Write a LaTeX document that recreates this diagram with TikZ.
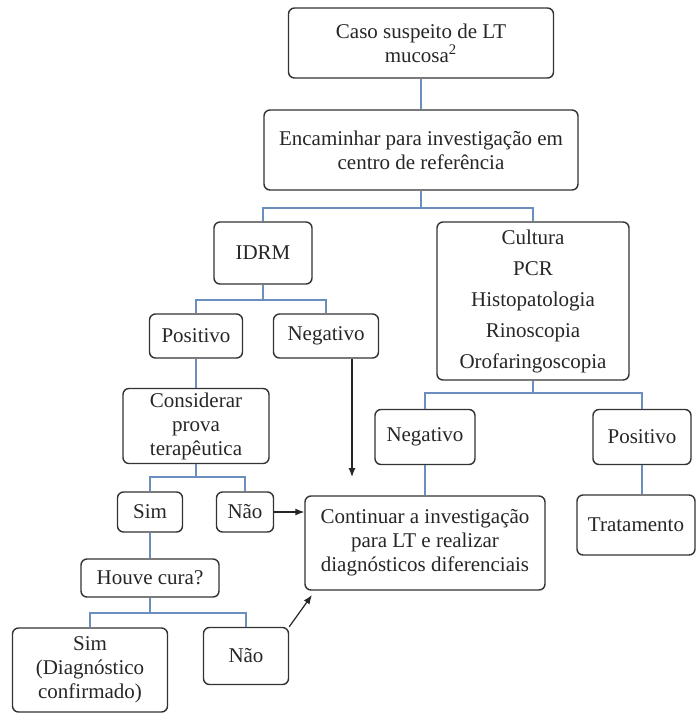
\documentclass[tikz,border=0pt]{standalone}
\usepackage{fontspec}
\setmainfont{Liberation Serif}
\usetikzlibrary{arrows.meta}
\definecolor{boxline}{HTML}{333333}
\definecolor{linkblue}{HTML}{6A8FBF}
\tikzset{
    box/.style={draw=boxline, line width=0.7pt, rounded corners=3pt, align=center,
        inner sep=2pt, font=\fontsize{10.5}{12}\selectfont, text=black!85},
    link/.style={draw=linkblue, line width=0.6pt},
    arr/.style={draw=black!85, line width=0.6pt, -{Latex[length=4.5pt,width=3.5pt]}}
}
\begin{document}
\begin{tikzpicture}[x=0.5pt, y=-0.5pt]
                \useasboundingbox (0,0) rectangle (696,713);
                \node[box, minimum width=132.5pt, minimum height=35pt] (caso) at (421,43) {Caso suspeito de LT\\mucosa\textsuperscript{2}};
                \node[box, minimum width=157pt, minimum height=40pt] (encam) at (421,150) {Encaminhar para investigação em\\centro de referência};
                \node[box, minimum width=49pt, minimum height=31pt] (idrm) at (263,253) {IDRM};
                \node[box, minimum width=96pt, minimum height=79pt] (cult) at (533,301) {Cultura\\[3.5pt]PCR\\[3.5pt]Histopatologia\\[3.5pt]Rinoscopia\\[3.5pt]Orofaringoscopia};
                \node[box, minimum width=46.5pt, minimum height=22pt] (posA) at (196,336) {Positivo};
                \node[box, minimum width=52.5pt, minimum height=22pt] (negA) at (326,336) {Negativo};
                \node[box, minimum width=73pt, minimum height=37pt] (consid) at (196,426) {Considerar\\prova\\terapêutica};
                \node[box, minimum width=50pt, minimum height=27.5pt] (negB) at (425,437) {Negativo};
                \node[box, minimum width=49pt, minimum height=27.5pt] (posB) at (642,437) {Positivo};
                \node[box, minimum width=32.5pt, minimum height=20pt] (sim) at (150,512) {Sim};
                \node[box, minimum width=28.5pt, minimum height=20pt] (nao) at (245,512) {Não};
                \node[box, minimum width=120pt, minimum height=47pt] (cont) at (425,543) {Continuar a investigação\\para LT e realizar\\diagnósticos diferenciais};
                \node[box, minimum width=59pt, minimum height=30pt] (trat) at (636,525) {Tratamento};
                \node[box, minimum width=69pt, minimum height=19pt] (houve) at (150,578) {Houve cura?};
                \node[box, minimum width=77.5pt, minimum height=42pt] (simB) at (90,670) {Sim\\(Diagnóstico\\confirmado)};
                \node[box, minimum width=42.5pt, minimum height=28.5pt] (naoB) at (246,656) {Não};

                \coordinate (barA) at (421,208);
                \coordinate (barB) at (263,300);
                \coordinate (barC) at (533,393);
                \coordinate (barD) at (196,477);
                \coordinate (barE) at (150,613);
                \coordinate (negEnd) at (352,477);
                \coordinate (curaEnd) at (312,595);

                \draw[link] (caso) -- (encam);
                \draw[link] (encam) -- (barA) -| (idrm);
                \draw[link] (barA) -| (cult);
                \draw[link] (idrm) -- (barB) -| (posA);
                \draw[link] (barB) -| (negA);
                \draw[link] (posA) -- (consid);
                \draw[link] (cult) -- (barC) -| (negB);
                \draw[link] (barC) -| (posB);
                \draw[link] (negB) -- (cont);
                \draw[link] (posB.south) -- (posB.south |- trat.north);
                \draw[link] (consid) -- (barD) -| (sim);
                \draw[link] (barD) -| (nao);
                \draw[link] (sim) -- (houve);
                \draw[link] (houve) -- (barE) -| (simB);
                \draw[link] (barE) -| (naoB);

                \draw[arr] (negA.south -| negEnd) -- (negEnd);
                \draw[arr] (nao) -- (cont.west |- nao);
                \draw[arr] (naoB.north east) -- (curaEnd);
            \end{tikzpicture}
\end{document}
